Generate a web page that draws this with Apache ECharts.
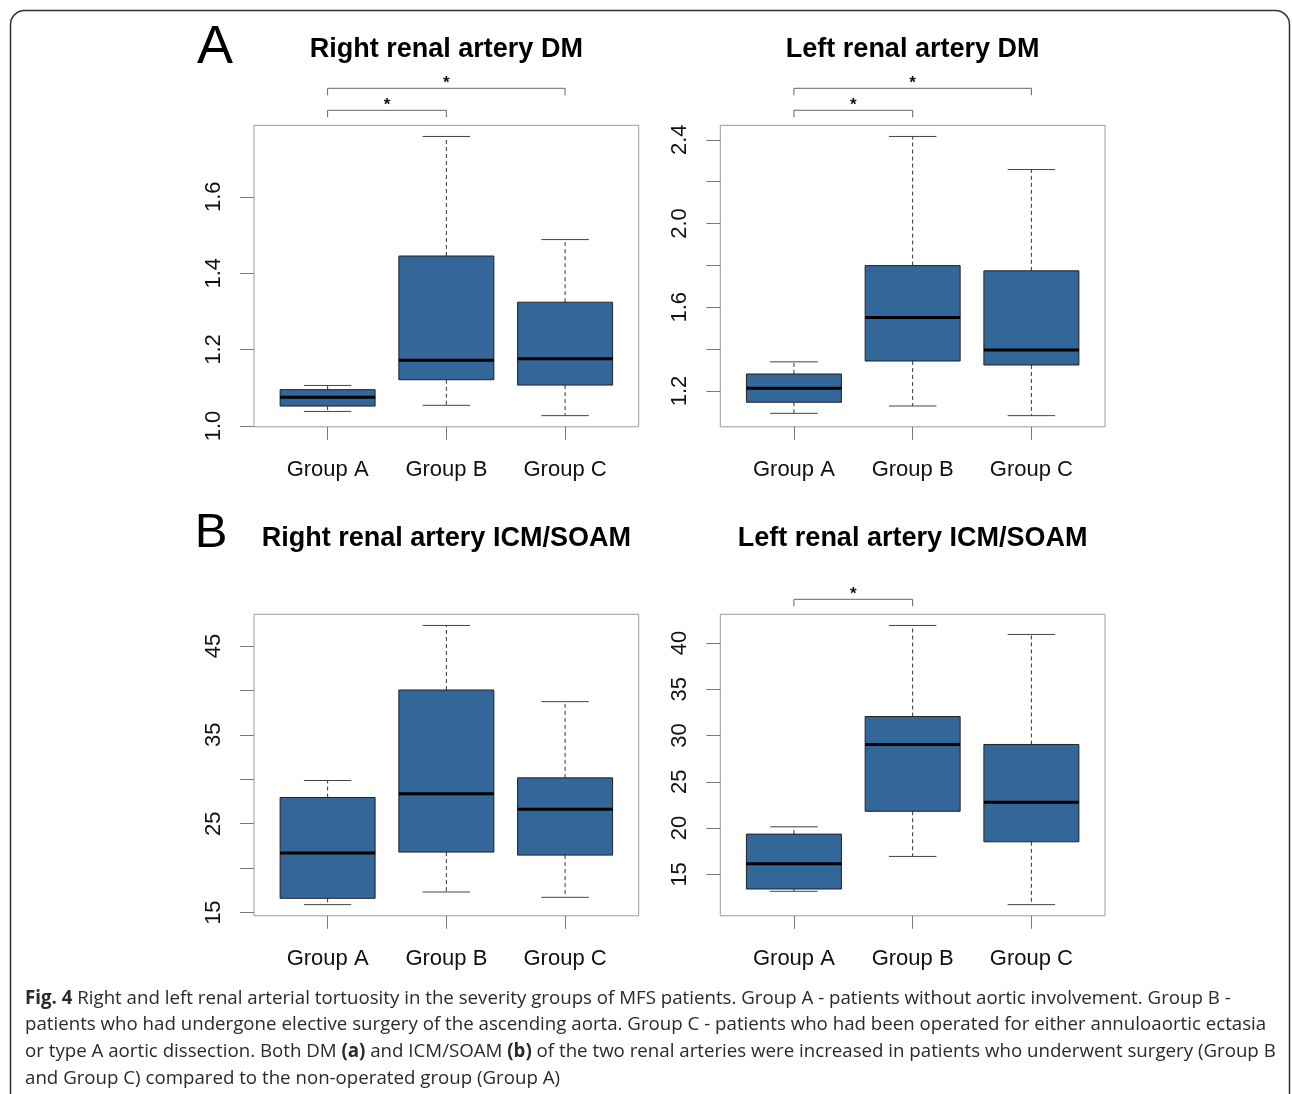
<!DOCTYPE html>
<html>
<head>
<meta charset="utf-8">
<script src="https://cdn.jsdelivr.net/npm/echarts@6/dist/echarts.min.js"></script>
<style>
html,body{margin:0;padding:0;background:#fff;}
#chart{width:1292px;height:1094px;}
</style>
</head>
<body>
<div id="chart"></div>
<script>
// ---- Data ----
const groups = ['Group A', 'Group B', 'Group C'];
// each row: [lower whisker, Q1, median, Q3, upper whisker]
const rightDM  = [[1.038, 1.052, 1.075, 1.095, 1.106], [1.054, 1.121, 1.172, 1.445, 1.758], [1.027, 1.107, 1.176, 1.324, 1.488]];
const leftDM   = [[1.093, 1.146, 1.213, 1.281, 1.339], [1.128, 1.343, 1.551, 1.799, 2.416], [1.082, 1.324, 1.396, 1.774, 2.258]];
const rightICM = [[15.90, 16.61, 21.70, 27.95, 29.86], [17.32, 21.81, 28.36, 40.04, 47.30], [16.72, 21.47, 26.64, 30.16, 38.73]];
const leftICM  = [[13.17, 13.42, 16.15, 19.35, 20.14], [16.94, 21.82, 29.04, 32.06, 41.90], [11.73, 18.52, 22.79, 29.04, 40.93]];

const rightDMTicks  = [1.0, 1.2, 1.4, 1.6];
const rightDMLabels = [1.0, 1.2, 1.4, 1.6];
const leftDMTicks   = [1.2, 1.4, 1.6, 1.8, 2.0, 2.2, 2.4];
const leftDMLabels  = [1.2, 1.6, 2.0, 2.4];
const rightICMTicks = [15, 20, 25, 30, 35, 40, 45];
const rightICMLabels= [15, 25, 35, 45];
const leftICMTicks  = [15, 20, 25, 30, 35, 40];
const leftICMLabels = [15, 20, 25, 30, 35, 40];

// significance brackets: [from group, to group, level]
const rightDMSig  = [[1, 2, 0], [1, 3, 1]];
const leftDMSig   = [[1, 2, 0], [1, 3, 1]];
const rightICMSig = [];
const leftICMSig  = [[1, 2, 0]];

const titles = ['Right renal artery DM', 'Left renal artery DM', 'Right renal artery ICM/SOAM', 'Left renal artery ICM/SOAM'];

// ---- Layout ----
const FONT = '"Liberation Sans", Arial, Helvetica, sans-serif';
const FW = 384.7, FH = 301.5;
const panels = [
  {data: rightDM,  ticks: rightDMTicks,  labels: rightDMLabels,  sig: rightDMSig,  dec: 1, left: 254,   top: 125.3},
  {data: leftDM,   ticks: leftDMTicks,   labels: leftDMLabels,   sig: leftDMSig,   dec: 1, left: 720.3, top: 125.3},
  {data: rightICM, ticks: rightICMTicks, labels: rightICMLabels, sig: rightICMSig, dec: 0, left: 254,   top: 614.3},
  {data: leftICM,  ticks: leftICMTicks,  labels: leftICMLabels,  sig: leftICMSig,  dec: 0, left: 720.3, top: 614.3}
];

function extent(rows) {
  let lo = Infinity, hi = -Infinity;
  rows.forEach(r => r.forEach(v => { lo = Math.min(lo, v); hi = Math.max(hi, v); }));
  const r = hi - lo;
  return [lo - 0.04 * r, hi + 0.04 * r];
}

const grid = [], xAxis = [], yAxis = [], series = [], graphic = [];
const BOX = '#336699';

panels.forEach((p, i) => {
  const [ymin, ymax] = extent(p.data);
  grid.push({left: p.left, top: p.top, width: FW, height: FH, show: true,
             borderColor: '#9a9a9a', borderWidth: 1, backgroundColor: 'transparent', containLabel: false});
  xAxis.push({
    gridIndex: i, type: 'value', min: 0.38, max: 3.62,
    axisLine: {show: false}, splitLine: {show: false},
    axisTick: {show: true, length: 13, customValues: [1, 2, 3], lineStyle: {color: '#7a7a7a', width: 1}},
    axisLabel: {customValues: [1, 2, 3], margin: 32, fontSize: 22, fontFamily: FONT, color: '#111',
                formatter: v => groups[Math.round(v) - 1]}
  });
  yAxis.push({
    gridIndex: i, type: 'value', min: ymin, max: ymax,
    axisLine: {show: false}, splitLine: {show: false},
    axisTick: {show: true, length: 14, customValues: p.ticks, lineStyle: {color: '#7a7a7a', width: 1}},
    axisLabel: {customValues: p.labels, rotate: 90, margin: 29, fontSize: 22, fontFamily: FONT, color: '#111',
                formatter: v => Number(v).toFixed(p.dec)}
  });
  series.push({
    type: 'custom', xAxisIndex: i, yAxisIndex: i,
    data: p.data.map((r, k) => [k + 1].concat(r)),
    encode: {x: 0, y: [1, 2, 3, 4, 5]},
    renderItem: (params, api) => {
      const x = api.value(0);
      const w = api.size([0.8, 0])[0];
      const pl = api.coord([x, api.value(1)]);
      const p1 = api.coord([x, api.value(2)]);
      const pm = api.coord([x, api.value(3)]);
      const p3 = api.coord([x, api.value(4)]);
      const ph = api.coord([x, api.value(5)]);
      const cx = pl[0];
      const wl = {stroke: '#333', lineWidth: 1, lineDash: [4, 3]};
      const cl = {stroke: '#444', lineWidth: 1};
      return {type: 'group', children: [
        {type: 'line', shape: {x1: cx, y1: p3[1], x2: cx, y2: ph[1]}, style: wl},
        {type: 'line', shape: {x1: cx, y1: p1[1], x2: cx, y2: pl[1]}, style: wl},
        {type: 'line', shape: {x1: cx - w / 4, y1: ph[1], x2: cx + w / 4, y2: ph[1]}, style: cl},
        {type: 'line', shape: {x1: cx - w / 4, y1: pl[1], x2: cx + w / 4, y2: pl[1]}, style: cl},
        {type: 'rect', shape: {x: cx - w / 2, y: p3[1], width: w, height: p1[1] - p3[1]},
         style: {fill: BOX, stroke: '#222', lineWidth: 1}},
        {type: 'line', shape: {x1: cx - w / 2, y1: pm[1], x2: cx + w / 2, y2: pm[1]},
         style: {stroke: '#000', lineWidth: 3}}
      ]};
    }
  });
  if (p.sig.length) {
    series.push({
      type: 'custom', xAxisIndex: i, yAxisIndex: i, clip: false, silent: true,
      data: p.sig.map(s => s.slice()),
      encode: {x: [0, 1]},
      renderItem: (params, api) => {
        const a = api.coord([api.value(0), ymax]);
        const b = api.coord([api.value(1), ymax]);
        const y = a[1] - 15 - api.value(2) * 22;
        return {type: 'group', children: [
          {type: 'polyline', shape: {points: [[a[0], y + 7], [a[0], y], [b[0], y], [b[0], y + 7]]},
           style: {stroke: '#666', lineWidth: 1, fill: null}},
          {type: 'text', x: (a[0] + b[0]) / 2, y: y + 4,
           style: {text: '*', font: 'bold 17px ' + FONT, fill: '#111', align: 'center', verticalAlign: 'bottom'}}
        ]};
      }
    });
  }
  graphic.push({type: 'text', x: p.left + FW / 2, y: p.top - 76,
    style: {text: titles[i], font: 'bold 27px ' + FONT, fill: '#000', align: 'center', verticalAlign: 'middle'}});
});

graphic.push({type: 'text', x: 215, y: 48, style: {text: 'A', font: '54px ' + FONT, fill: '#000', align: 'center', verticalAlign: 'middle'}});
graphic.push({type: 'text', x: 211, y: 533, style: {text: 'B', font: '49px ' + FONT, fill: '#000', align: 'center', verticalAlign: 'middle'}});

// outer card border
graphic.push({type: 'rect', shape: {x: 10.5, y: 10.5, width: 1279, height: 1120, r: 14},
  style: {fill: null, stroke: '#333', lineWidth: 1.5}, z: -1});

const caption =
  '{b|Fig. 4} Right and left renal arterial tortuosity in the severity groups of MFS patients. Group A - patients without aortic involvement. Group B -\n' +
  'patients who had undergone elective surgery of the ascending aorta. Group C - patients who had been operated for either annuloaortic ectasia\n' +
  'or type A aortic dissection. Both DM {b|(a)} and ICM/SOAM {b|(b)} of the two renal arteries were increased in patients who underwent surgery (Group B\n' +
  'and Group C) compared to the non-operated group (Group A)';
graphic.push({type: 'text', x: 25, y: 985,
  style: {text: caption, fontFamily: '"Open Sans", sans-serif', fontSize: 18.7, fill: '#2a2a2a',
          lineHeight: 26.7, align: 'left', verticalAlign: 'top',
          rich: {b: {fontWeight: 'bold', fontFamily: '"Open Sans", sans-serif', fontSize: 18.7, fill: '#2a2a2a', lineHeight: 26.7}}}});

const chart = echarts.init(document.getElementById('chart'), null, {renderer: 'canvas'});
chart.setOption({animation: false, backgroundColor: '#fff', grid, xAxis, yAxis, series, graphic});
</script>
</body>
</html>
